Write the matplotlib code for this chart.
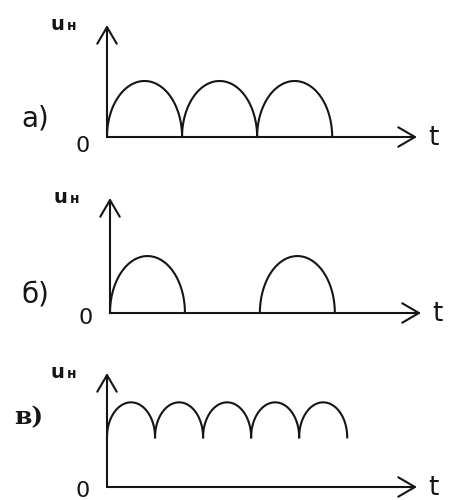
import numpy as np
import matplotlib.pyplot as plt

# pulse data: start times, pulse width, peak value, value at the pulse edges
a_starts = [0.0, 1.0, 2.0]
a_width = 1.0
a_peak = 1.0
a_edge = 0.0

b_starts = [0.0, 2.0]
b_width = 1.0
b_peak = 1.0
b_edge = 0.0

c_starts = [0.0, 0.64, 1.28, 1.92, 2.56]
c_width = 0.64
c_peak = 1.5
c_edge = 0.88

t_max = [4.13, 4.15, 4.13]
u_max = [2.0, 2.02, 2.02]
panel_labels = ["а)", "б)", "в)"]

W, H = 449, 500
ink = "#151515"


def px(x, y):
    # pixel position -> figure fraction
    return x / W, 1 - y / H


def pulse(start, width, peak, edge):
    s = np.linspace(0, np.pi, 120)
    x = start + width / 2 * (1 - np.cos(s))
    y = edge + (peak - edge) * np.sin(s)
    return x, y


def draw_panel(ax, tmax, umax, starts, width, peak, edge):
    ax.set_xlim(0, tmax)
    ax.set_ylim(0, umax)
    ax.axis("off")
    arrow = dict(arrowstyle="->,head_length=1.2,head_width=0.7", lw=1.5,
                 color=ink, shrinkA=0, shrinkB=0)
    ax.annotate("", xy=(1, 0), xytext=(0, 0), xycoords="axes fraction",
                arrowprops=arrow)
    ax.annotate("", xy=(0, 1), xytext=(0, 0), xycoords="axes fraction",
                arrowprops=arrow)
    for s0 in starts:
        x, y = pulse(s0, width, peak, edge)
        ax.plot(x, y, color=ink, lw=1.5, clip_on=False)


fig = plt.figure(figsize=(W / 100, H / 100), dpi=100)
fig.patch.set_facecolor("white")

# axes rectangles: (left px, baseline px, width px, height px)
rects = [(107, 137, 310, 112), (110, 313, 311, 115), (107, 487, 310, 114)]
zero_drop = [15, 11, 10]
data = [(a_starts, a_width, a_peak, a_edge),
        (b_starts, b_width, b_peak, b_edge),
        (c_starts, c_width, c_peak, c_edge)]

for i, ((l, b, w, h), d) in enumerate(zip(rects, data)):
    ax = fig.add_axes([l / W, (H - b) / H, w / W, h / H])
    draw_panel(ax, t_max[i], u_max[i], *d)

    # u_н label
    uy = b - h + 5
    fig.text(*px(l - 43, uy), "u", fontsize=14, fontweight="bold",
             ha="right", va="baseline", color=ink)
    fig.text(*px(l - 40, uy), "н", fontsize=10, fontweight="bold",
             ha="left", va="baseline", color=ink)
    # zero
    fig.text(*px(l - 24, b + zero_drop[i]), "0", fontsize=16, ha="center",
             va="baseline", color=ink)
    # t
    fig.text(*px(l + w + 11, b + 8), "t", fontsize=19, ha="left",
             va="baseline", color=ink)

fig.text(*px(21, 127), panel_labels[0], fontsize=20, ha="left",
         va="baseline", color=ink)
fig.text(*px(21, 303), panel_labels[1], fontsize=20, ha="left",
         va="baseline", color=ink)
fig.text(*px(14, 424), panel_labels[2], fontsize=18, ha="left",
         va="baseline", color=ink, family="DejaVu Serif", fontweight="bold")

fig.savefig("out.png", dpi=100, facecolor="white")
